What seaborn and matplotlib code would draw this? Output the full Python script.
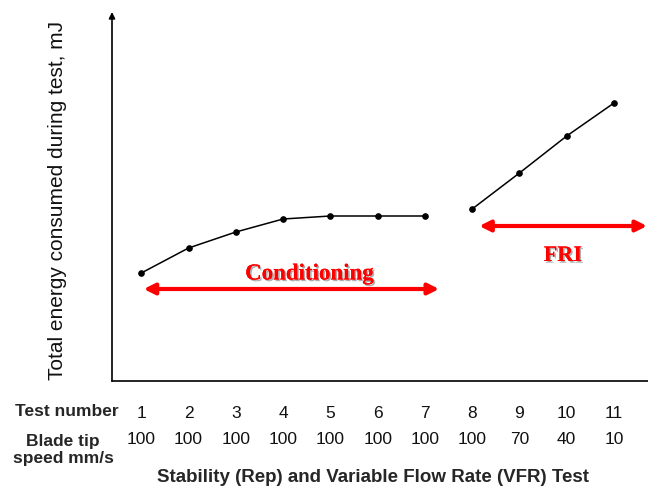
import matplotlib
matplotlib.use("Agg")
import matplotlib.pyplot as plt
import matplotlib.patheffects as pe
import seaborn as sns
import pandas as pd

# data (arbitrary energy units)
tests = [1, 2, 3, 4, 5, 6, 7, 8, 9, 10, 11]
energy = [108, 133, 149, 162, 165, 165, 165, 172, 208, 245, 278]
segment = ["Rep"] * 7 + ["VFR"] * 4
tip_speed = [100, 100, 100, 100, 100, 100, 100, 100, 70, 40, 10]

df = pd.DataFrame({"test": tests, "energy": energy, "segment": segment})

sns.set_style("white")
plt.rcParams["font.family"] = ["Liberation Sans", "DejaVu Sans"]

fig = plt.figure(figsize=(6.48, 4.91), dpi=100)
ax = fig.add_axes([112 / 648, 110 / 491, 536 / 648, 369 / 491])

sns.lineplot(data=df, x="test", y="energy", units="segment", estimator=None,
             color="black", marker="o", markersize=4, linewidth=1.1,
             markeredgecolor="black", ax=ax, legend=False)

ax.set_xlim(0.38, 11.72)
ax.set_ylim(0, 369)
ax.set_yticks([])
ax.set_xticks(tests, labels=[f"{t}\n{s}" for t, s in zip(tests, tip_speed)])
ax.tick_params(axis="x", length=0, pad=18, labelsize=12.5, labelcolor="#111111")
for lbl in ax.get_xticklabels():
    lbl.set_linespacing(1.95)
ax.set_xlabel("")
ax.set_ylabel("")

for side in ["top", "right"]:
    ax.spines[side].set_visible(False)
ax.spines["bottom"].set_color("black")
ax.spines["bottom"].set_linewidth(1.2)
ax.spines["left"].set_visible(False)
ax.annotate("", xy=(0, 1.0), xytext=(0, 0), xycoords="axes fraction",
            arrowprops=dict(arrowstyle="-|>", color="black", lw=1.2,
                            mutation_scale=9, shrinkA=0, shrinkB=0))

# red double arrows
red = "#ff0000"
ax.annotate("", xy=(1.05, 92), xytext=(7.3, 92), xycoords="data",
            arrowprops=dict(arrowstyle="<|-|>", color=red, lw=3,
                            mutation_scale=16, shrinkA=0, shrinkB=0))
ax.annotate("", xy=(8.15, 155), xytext=(11.7, 155), xycoords="data",
            arrowprops=dict(arrowstyle="<|-|>", color=red, lw=3,
                            mutation_scale=16, shrinkA=0, shrinkB=0))

shadow = [pe.withSimplePatchShadow(offset=(1.2, -1.2), shadow_rgbFace="#777777", alpha=0.6), pe.Normal()]
ax.text(4.55, 107, "Conditioning", color=red, fontsize=16.5, fontweight="bold",
        family=["Liberation Serif", "DejaVu Serif"], ha="center", va="center",
        path_effects=shadow)
ax.text(9.92, 125, "FRI", color=red, fontsize=16, fontweight="bold",
        family=["Liberation Serif", "DejaVu Serif"], ha="center", va="center",
        path_effects=shadow)

fig.text(58 / 648, 1 - 200 / 491, "Total energy consumed during test, mJ",
         rotation=90, ha="center", va="center", fontsize=15, color="#111111")
fig.text(67 / 648, 1 - 412 / 491, "Test number", ha="center", va="center",
         fontsize=12.5, fontweight="bold")
fig.text(63 / 648, 1 - 450 / 491, "Blade tip\nspeed mm/s", ha="center", va="center",
         fontsize=12.5, fontweight="bold", linespacing=1.15)
fig.text(373 / 648, 1 - 477 / 491, "Stability (Rep) and Variable Flow Rate (VFR) Test",
         ha="center", va="center", fontsize=13.5, fontweight="bold")

fig.savefig("out.png", dpi=100)
